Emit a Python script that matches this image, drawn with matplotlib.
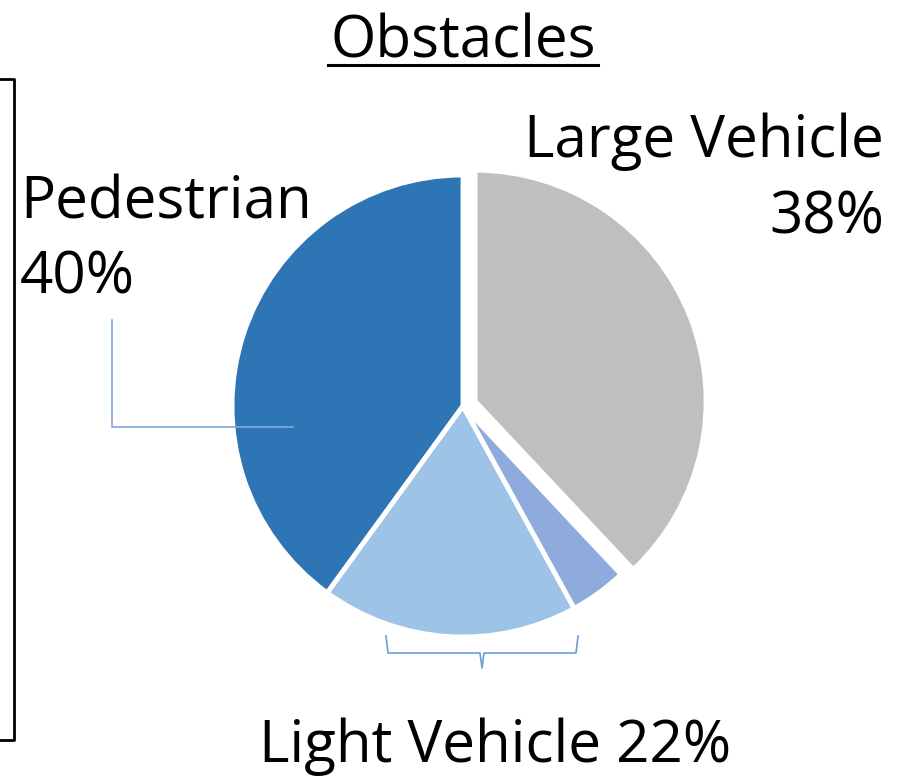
import matplotlib.pyplot as plt

plt.rcParams['font.family'] = ['Open Sans', 'DejaVu Sans']

# data
labels = ['Pedestrian', 'Light Vehicle', 'Light Vehicle (other)', 'Large Vehicle']
values = [40, 18, 4, 38]
colors = ['#2E75B6', '#9DC3E6', '#8FAADC', '#BFBFBF']
light_total = 22

W, H = 898, 778
fig = plt.figure(figsize=(W / 100, H / 100), dpi=100)
ax = fig.add_axes([0, 0, 1, 1])

# pie in pixel-like data units (explode is in data units too)
cx, cy, r = 463, H - 406, 231
ax.pie(values, colors=colors, startangle=90, counterclock=True,
       explode=[0, 0, 0, 13], center=(cx, cy), radius=r, frame=True,
       wedgeprops=dict(edgecolor='white', linewidth=3.5))
ax.set_xlim(0, W)
ax.set_ylim(0, H)
ax.set_aspect('equal')
ax.axis('off')

fs = 42
# title
ax.text(463, H - 57, 'Obstacles', fontsize=fs, ha='center', va='baseline')
ax.plot([328, 598], [H - 65, H - 65], color='black', lw=2.2)

# labels
ax.text(20, H - 218, labels[0], fontsize=fs, ha='left', va='baseline')
ax.text(20, H - 293, f'{values[0]}%', fontsize=fs, ha='left', va='baseline')
ax.text(884, H - 157, labels[3], fontsize=fs, ha='right', va='baseline')
ax.text(884, H - 233, f'{values[3]}%', fontsize=fs, ha='right', va='baseline')
ax.text(495, H - 762, f'{labels[1]} {light_total}%', fontsize=fs,
        ha='center', va='baseline')

# leader line for pedestrian
ax.plot([112, 112, 293], [H - 320, H - 427, H - 427], color='#7FA8D8', lw=1.2)

# bracket under light vehicle
ax.plot([386, 388, 480, 482, 484, 576, 578],
        [H - 636, H - 653, H - 653, H - 668, H - 653, H - 653, H - 636],
        color='#6A9FD8', lw=1.2)

# left box edge
ax.plot([0, 14, 14, 0], [H - 79, H - 79, H - 740, H - 740], color='black', lw=2)

fig.savefig('out.png', dpi=100)
